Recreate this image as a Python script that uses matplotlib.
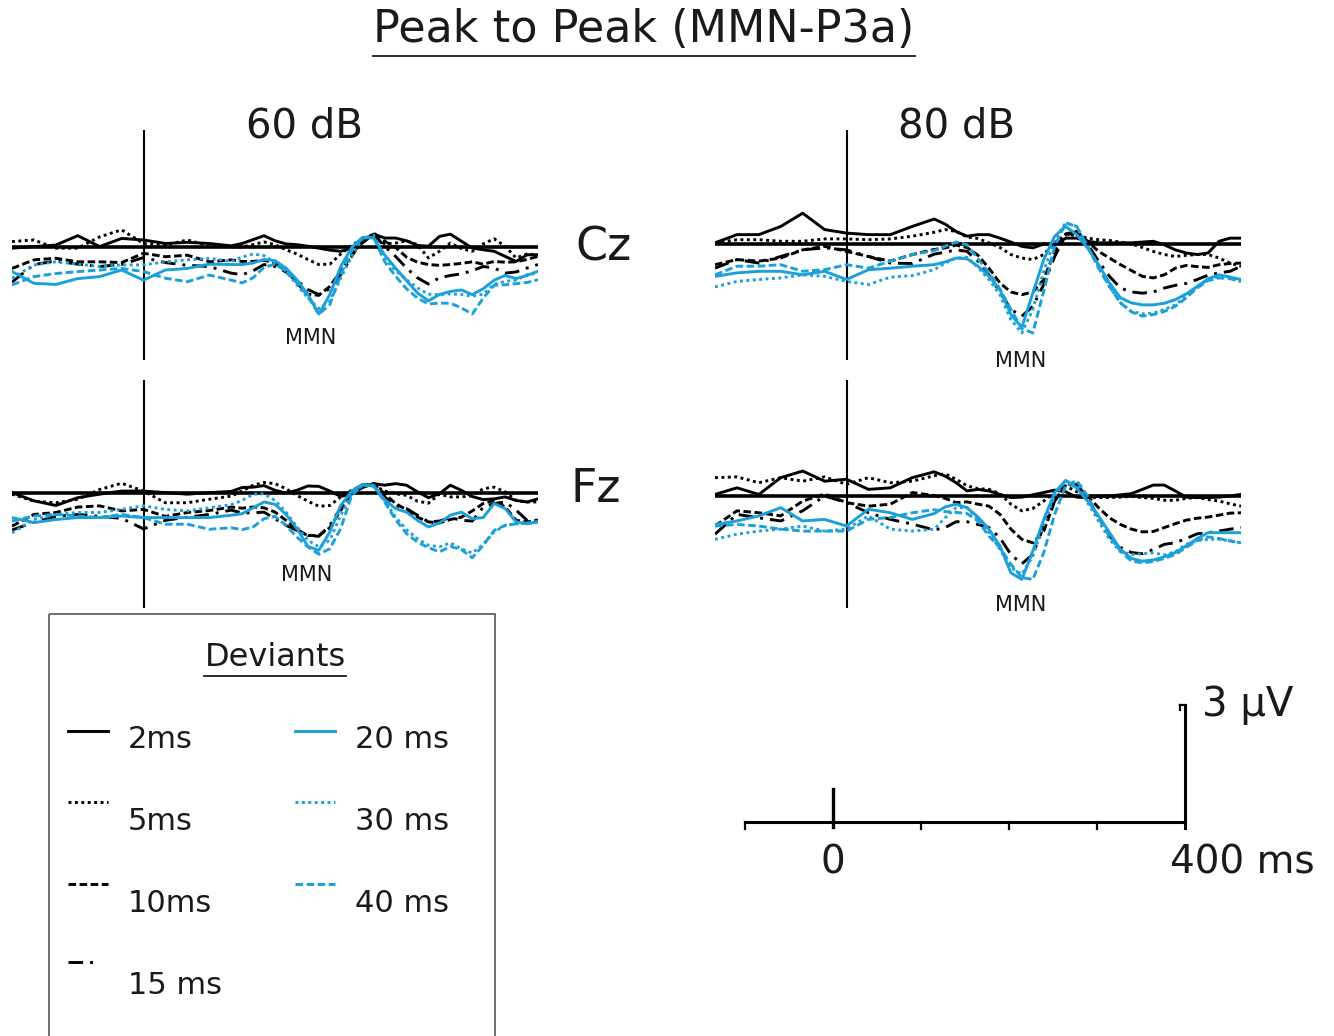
import matplotlib
matplotlib.use('Agg')
import matplotlib.pyplot as plt
from matplotlib.patches import Rectangle

t = [-150, -125, -100, -75, -50, -25, 0, 25, 50, 75, 100,
     112.5, 125, 137.5, 150, 162.5, 175, 187.5, 200, 212.5, 225, 237.5, 250, 262.5,
     275, 287.5, 300, 312.5, 325, 337.5, 350, 362.5, 375, 387.5, 400, 412.5, 425, 437.5, 450]

# amplitudes (microvolts), Cz 60 dB
cz60_2 = [-0.03, 0.01, 0.05, 0.29, 0.01, 0.22, 0.18, 0.09, 0.12, 0.09, 0.03,
          0.09, 0.19, 0.29, 0.16, 0.08, 0.06, 0.02, -0.03, -0.08, -0.11, -0.03, 0.11, 0.33,
          0.23, 0.23, 0.16, 0.04, 0.02, 0.27, 0.33, 0.15, -0.03, -0.07, -0.11, -0.24, -0.37, -0.20, -0.20]
cz60_5 = [0.14, 0.18, -0.03, -0.03, 0.26, 0.44, 0.09, 0.05, 0.18, 0.03, 0.00,
          0.00, 0.06, 0.13, 0.06, -0.07, -0.18, -0.32, -0.45, -0.44, -0.18, 0.04, 0.21, 0.28,
          0.08, 0.10, 0.16, 0.06, -0.28, -0.11, 0.10, -0.04, -0.11, 0.08, 0.21, 0.02, -0.28, -0.18, -0.20]
cz60_10 = [-0.55, -0.33, -0.29, -0.38, -0.38, -0.40, -0.16, -0.25, -0.21, -0.38, -0.33,
           -0.37, -0.37, -0.34, -0.41, -0.58, -0.92, -1.21, -1.24, -1.01, -0.62, -0.20, 0.13, 0.36,
           0.15, -0.01, -0.26, -0.39, -0.45, -0.47, -0.45, -0.42, -0.38, -0.44, -0.37, -0.39, -0.38, -0.32, -0.24]
cz60_15 = [-0.90, -0.45, -0.36, -0.44, -0.50, -0.45, -0.27, -0.40, -0.47, -0.50, -0.67,
           -0.71, -0.61, -0.45, -0.50, -0.64, -0.86, -1.09, -1.22, -1.07, -0.71, -0.24, 0.21, 0.32,
           0.02, -0.24, -0.54, -0.79, -0.95, -0.79, -0.73, -0.69, -0.61, -0.50, -0.54, -0.67, -0.64, -0.54, -0.45]
cz60_20 = [-0.63, -0.93, -0.96, -0.81, -0.76, -0.59, -0.85, -0.59, -0.55, -0.44, -0.45,
           -0.45, -0.41, -0.32, -0.35, -0.54, -0.84, -1.22, -1.72, -1.22, -0.50, -0.01, 0.25, 0.23,
           -0.20, -0.54, -0.86, -1.18, -1.38, -1.22, -1.14, -1.10, -1.22, -1.07, -0.85, -0.73, -0.81, -0.73, -0.62]
cz60_30 = [-0.80, -0.46, -0.38, -0.44, -0.50, -0.46, -0.46, -0.38, -0.33, -0.29, -0.37,
           -0.26, -0.18, -0.22, -0.41, -0.62, -0.97, -1.31, -1.58, -1.39, -0.79, -0.24, 0.23, 0.30,
           -0.28, -0.61, -0.84, -1.05, -1.21, -1.22, -1.20, -1.22, -1.26, -1.21, -0.95, -0.88, -0.85, -0.71, -0.67]
cz60_40 = [-0.97, -0.76, -0.68, -0.63, -0.59, -0.55, -0.63, -0.80, -0.89, -0.72, -0.85,
           -0.92, -0.79, -0.52, -0.44, -0.62, -0.92, -1.26, -1.72, -1.48, -0.71, -0.07, 0.23, 0.25,
           -0.37, -0.75, -1.07, -1.31, -1.46, -1.44, -1.44, -1.56, -1.72, -1.31, -0.98, -0.97, -0.94, -0.91, -0.84]

# Cz 80 dB
cz80_2 = [0.03, 0.24, 0.24, 0.45, 0.79, 0.37, 0.28, 0.24, 0.24, 0.45, 0.64,
          0.51, 0.32, 0.20, 0.24, 0.24, 0.15, 0.05, -0.06, -0.10, 0.00, -0.03, 0.15, 0.15,
          0.07, 0.03, 0.03, 0.03, 0.03, 0.05, 0.07, -0.02, -0.15, -0.23, -0.27, -0.23, 0.07, 0.15, 0.15]
cz80_5 = [0.03, 0.11, 0.11, 0.07, 0.07, 0.13, 0.13, 0.11, 0.13, 0.20, 0.30,
          0.37, 0.32, 0.18, 0.14, 0.03, -0.09, -0.27, -0.36, -0.40, -0.27, 0.03, 0.24, 0.22,
          0.15, 0.11, 0.09, 0.05, 0.00, -0.09, -0.19, -0.27, -0.32, -0.29, -0.27, -0.27, -0.36, -0.49, -0.57]
cz80_10 = [-0.53, -0.40, -0.44, -0.36, -0.15, -0.06, -0.19, -0.32, -0.44, -0.27, -0.14,
           -0.10, -0.03, -0.09, -0.29, -0.62, -1.00, -1.23, -1.30, -1.23, -0.91, -0.19, 0.26, 0.32,
           0.07, -0.19, -0.36, -0.53, -0.68, -0.83, -0.87, -0.79, -0.62, -0.55, -0.58, -0.60, -0.53, -0.50, -0.49]
cz80_15 = [-0.62, -0.40, -0.49, -0.32, -0.15, -0.10, -0.15, -0.32, -0.49, -0.50, -0.26,
           -0.21, -0.15, -0.19, -0.44, -0.80, -1.23, -1.68, -1.85, -1.60, -1.04, -0.32, 0.22, 0.32,
           0.00, -0.44, -0.83, -1.13, -1.23, -1.26, -1.23, -1.13, -1.06, -1.01, -0.91, -0.80, -0.74, -0.70, -0.57]
cz80_20 = [-0.83, -0.74, -0.70, -0.70, -0.79, -0.70, -0.91, -0.66, -0.62, -0.57, -0.53,
           -0.46, -0.36, -0.38, -0.57, -0.83, -1.17, -1.81, -2.14, -1.26, -0.40, 0.20, 0.45, 0.24,
           -0.10, -0.53, -1.00, -1.38, -1.51, -1.56, -1.56, -1.52, -1.43, -1.28, -1.09, -0.89, -0.79, -0.85, -0.91]
cz80_30 = [-1.10, -0.96, -0.91, -0.87, -0.79, -0.83, -0.96, -1.04, -0.85, -0.81, -0.66,
           -0.49, -0.36, -0.34, -0.60, -0.91, -1.30, -1.94, -2.28, -1.68, -0.70, 0.11, 0.54, 0.45,
           -0.06, -0.57, -1.09, -1.51, -1.73, -1.79, -1.77, -1.68, -1.56, -1.34, -1.09, -0.91, -0.83, -0.85, -0.96]
cz80_40 = [-0.79, -0.57, -0.57, -0.53, -0.70, -0.66, -0.53, -0.62, -0.44, -0.27, -0.17,
           -0.06, 0.05, -0.02, -0.38, -0.74, -1.15, -1.68, -2.17, -2.28, -1.21, -0.06, 0.54, 0.45,
           -0.06, -0.62, -1.09, -1.51, -1.74, -1.85, -1.81, -1.73, -1.60, -1.38, -1.13, -0.94, -0.87, -0.89, -0.96]

# Fz 60 dB
fz60_2 = [0.01, -0.20, -0.32, -0.12, -0.03, 0.05, 0.05, 0.01, -0.03, 0.01, 0.04,
          0.14, 0.15, 0.19, 0.07, 0.00, 0.07, 0.18, 0.17, 0.05, -0.09, -0.02, 0.14, 0.24,
          0.20, 0.24, 0.20, 0.03, -0.12, -0.02, 0.20, 0.07, -0.09, -0.17, -0.15, -0.10, -0.19, -0.23, -0.15]
fz60_5 = [-0.03, -0.21, -0.25, -0.16, 0.09, 0.25, 0.05, -0.25, -0.25, -0.16, -0.08,
          0.05, 0.20, 0.27, 0.24, 0.11, -0.06, -0.21, -0.34, -0.32, -0.10, 0.07, 0.20, 0.20,
          0.05, -0.02, -0.06, -0.21, -0.26, -0.03, -0.10, -0.10, -0.07, 0.11, 0.15, 0.03, -0.19, -0.23, -0.23]
fz60_10 = [-0.85, -0.55, -0.50, -0.36, -0.33, -0.46, -0.42, -0.60, -0.50, -0.45, -0.36,
           -0.39, -0.36, -0.38, -0.49, -0.70, -0.94, -1.09, -1.09, -0.89, -0.44, 0.00, 0.20, 0.24,
           -0.02, -0.27, -0.43, -0.62, -0.74, -0.77, -0.68, -0.62, -0.46, -0.27, -0.19, -0.36, -0.70, -0.74, -0.70]
fz60_15 = [-0.95, -0.75, -0.60, -0.55, -0.60, -0.65, -0.92, -0.70, -0.62, -0.55, -0.44,
           -0.51, -0.51, -0.49, -0.66, -0.83, -0.96, -1.09, -1.11, -0.83, -0.38, 0.03, 0.22, 0.20,
           -0.10, -0.32, -0.40, -0.57, -0.74, -0.72, -0.63, -0.70, -0.72, -0.36, -0.27, -0.23, -0.44, -0.70, -0.70]
fz60_20 = [-0.63, -0.76, -0.68, -0.63, -0.63, -0.59, -0.63, -0.63, -0.63, -0.63, -0.57,
           -0.53, -0.38, -0.23, -0.29, -0.55, -0.91, -1.37, -1.47, -1.00, -0.32, 0.05, 0.22, 0.17,
           -0.17, -0.40, -0.49, -0.70, -0.87, -0.77, -0.57, -0.49, -0.66, -0.63, -0.27, -0.40, -0.74, -0.79, -0.74]
fz60_30 = [-1.02, -0.68, -0.55, -0.50, -0.50, -0.42, -0.33, -0.42, -0.46, -0.38, -0.30,
           -0.19, -0.03, -0.02, -0.19, -0.49, -0.87, -1.21, -1.38, -1.21, -0.57, -0.02, 0.20, 0.20,
           -0.19, -0.62, -0.94, -1.17, -1.34, -1.38, -1.28, -1.43, -1.54, -1.32, -1.00, -0.83, -0.79, -0.77, -0.74]
fz60_40 = [-0.72, -0.59, -0.55, -0.59, -0.63, -0.55, -0.63, -0.80, -0.80, -0.93, -0.89,
           -0.94, -0.87, -0.66, -0.60, -0.83, -1.13, -1.38, -1.57, -1.43, -0.91, -0.06, 0.20, 0.20,
           -0.23, -0.68, -1.04, -1.26, -1.40, -1.51, -1.37, -1.45, -1.66, -1.34, -0.96, -0.83, -0.79, -0.77, -0.74]

# Fz 80 dB
fz80_2 = [0.04, 0.21, 0.04, 0.47, 0.64, 0.38, 0.43, 0.17, 0.21, 0.47, 0.62,
          0.51, 0.34, 0.13, 0.17, 0.13, 0.04, -0.04, -0.03, 0.03, 0.09, 0.15, 0.11, -0.03,
          -0.04, 0.00, 0.00, 0.03, 0.06, 0.17, 0.28, 0.28, 0.13, -0.03, -0.04, -0.04, -0.03, 0.00, 0.04]
fz80_5 = [0.47, 0.49, 0.34, 0.47, 0.38, 0.49, 0.30, 0.47, 0.34, 0.38, 0.52,
          0.57, 0.43, 0.26, 0.19, 0.17, 0.06, -0.21, -0.38, -0.32, -0.13, 0.09, 0.26, 0.11,
          -0.03, -0.04, -0.04, -0.03, -0.01, -0.04, -0.06, -0.11, -0.11, -0.06, -0.04, -0.09, -0.13, -0.20, -0.26]
fz80_10 = [-0.77, -0.38, -0.43, -0.51, -0.13, 0.05, -0.17, -0.26, -0.21, 0.09, 0.01,
           -0.06, -0.17, -0.15, -0.21, -0.26, -0.47, -0.85, -1.11, -1.20, -0.90, -0.13, 0.32, 0.26,
           0.00, -0.30, -0.56, -0.73, -0.85, -0.92, -0.91, -0.81, -0.71, -0.62, -0.57, -0.54, -0.49, -0.44, -0.43]
fz80_15 = [-0.98, -0.47, -0.56, -0.64, -0.38, 0.00, -0.17, -0.43, -0.60, -0.72, -0.87,
           -0.81, -0.66, -0.66, -0.73, -0.81, -1.07, -1.50, -1.74, -1.50, -0.77, -0.13, 0.28, 0.30,
           -0.04, -0.56, -1.03, -1.32, -1.45, -1.48, -1.37, -1.24, -1.20, -1.09, -0.97, -0.94, -0.90, -0.85, -0.81]
fz80_20 = [-0.73, -0.64, -0.51, -0.30, -0.64, -0.60, -0.77, -0.34, -0.43, -0.60, -0.45,
           -0.28, -0.21, -0.30, -0.54, -0.85, -1.28, -1.97, -2.14, -1.41, -0.60, 0.09, 0.40, 0.20,
           -0.13, -0.51, -0.94, -1.37, -1.60, -1.67, -1.64, -1.56, -1.45, -1.28, -1.09, -0.94, -0.94, -0.94, -0.94]
fz80_30 = [-1.11, -0.98, -0.90, -0.85, -0.77, -0.90, -0.85, -0.51, -0.85, -0.90, -0.85,
           -0.56, -0.30, -0.30, -0.60, -0.94, -1.37, -1.84, -2.01, -1.54, -0.73, 0.00, 0.38, 0.30,
           -0.17, -0.64, -1.11, -1.43, -1.50, -1.48, -1.46, -1.51, -1.43, -1.24, -1.15, -1.11, -1.11, -1.15, -1.20]
fz80_40 = [-0.77, -0.73, -0.77, -0.85, -0.90, -0.90, -0.90, -0.60, -0.55, -0.43, -0.35,
           -0.40, -0.42, -0.45, -0.64, -1.03, -1.32, -1.75, -2.09, -2.14, -1.45, -0.47, 0.26, 0.40,
           0.00, -0.56, -1.03, -1.41, -1.67, -1.71, -1.68, -1.60, -1.50, -1.32, -1.14, -1.05, -1.09, -1.15, -1.20]

deviants = ['2ms', '5ms', '10ms', '15 ms', '20 ms', '30 ms', '40 ms']

BLUE = '#1ba0da'
INK = '#1a1a1a'
DOT = (0, (1.0, 1.2))
DASH = (0, (2.6, 1.2))
DASHDOT = (0, (5, 2.4, 1, 2.4))
styles = [('-', 'black'), (DOT, 'black'), (DASH, 'black'), (DASHDOT, 'black'),
          ('-', BLUE), (DOT, BLUE), (DASH, BLUE)]

W, H = 1334, 1036
fig = plt.figure(figsize=(W / 100, H / 100), dpi=100)


def px_axes(left, top, right, bottom):
    return fig.add_axes([left / W, 1 - bottom / H, (right - left) / W, (bottom - top) / H])


bg = fig.add_axes([0, 0, 1, 1], zorder=0)
bg.set_xlim(0, W)
bg.set_ylim(H, 0)
bg.axis('off')

UV = 39.0  # pixels per microvolt
panels = [
    ((12, 130, 538, 360), 247, [cz60_2, cz60_5, cz60_10, cz60_15, cz60_20, cz60_30, cz60_40]),
    ((715, 130, 1241, 360), 244, [cz80_2, cz80_5, cz80_10, cz80_15, cz80_20, cz80_30, cz80_40]),
    ((12, 380, 538, 608), 493, [fz60_2, fz60_5, fz60_10, fz60_15, fz60_20, fz60_30, fz60_40]),
    ((715, 380, 1241, 608), 496, [fz80_2, fz80_5, fz80_10, fz80_15, fz80_20, fz80_30, fz80_40]),
]
for (l, tp, r, b), base, waves in panels:
    ax = px_axes(l, tp, r, b)
    ax.axhline(0, color='black', lw=2.6, zorder=1)
    ax.axvline(0, color='black', lw=1.5, zorder=1)
    for w, (ls, c) in zip(waves, styles):
        ax.plot(t, w, linestyle=ls, color=c, lw=2.1, zorder=2,
                solid_joinstyle='round', dash_joinstyle='round')
    ax.set_xlim(-150, 450)
    ax.set_ylim(-(b - base) / UV, (base - tp) / UV)
    ax.axis('off')

# headings
title = bg.text(644, 30, 'Peak to Peak (MMN-P3a)', fontsize=32, ha='center', va='center', color=INK)
bg.text(304, 127, '60 dB', fontsize=29, ha='center', va='center', color=INK)
bg.text(957, 127, '80 dB', fontsize=29, ha='center', va='center', color=INK)
bg.text(603, 248, 'Cz', fontsize=33, ha='center', va='center', color=INK)
bg.text(596, 490, 'Fz', fontsize=33, ha='center', va='center', color=INK)
for x, y in [(311, 338), (1021, 361), (307, 575), (1021, 605)]:
    bg.text(x, y, 'MMN', fontsize=15, ha='center', va='center', color=INK)

# legend box
bg.add_patch(Rectangle((49, 614), 446, 440, fill=False, ec='#555555', lw=1.2))
dev = bg.text(275, 657, 'Deviants', fontsize=23, ha='center', va='center', color=INK)
rows = [(731, 740), (802, 822), (884, 903), (962, 985)]
for i, (lab, (ls, c)) in enumerate(zip(deviants, styles)):
    col, row = (0, i) if i < 4 else (1, i - 4)
    x0 = 68 if col == 0 else 295
    ly, ty = rows[row]
    x1 = x0 + (25 if ls == DASHDOT else 40)
    bg.plot([x0, x1], [ly, ly], linestyle=ls, color=c, lw=2.1)
    bg.text(x0 + 60, ty, lab, fontsize=22, ha='left', va='center', color=INK)

# underline title and legend heading
fig.canvas.draw()
rend = fig.canvas.get_renderer()
inv = bg.transData.inverted()
for txt, gap in [(title, 4), (dev, 3)]:
    bb = txt.get_window_extent(rend)
    (xa, ya), (xb, yb) = inv.transform([[bb.x0, bb.y0], [bb.x1, bb.y1]])
    bg.plot([xa, xb], [ya + gap, ya + gap], color=INK, lw=1.3)

# scale bar on the same ms / microvolt scale as the panels
sb = px_axes(745, 705, 1185, 822)
sb.set_xlim(-100, 400)
sb.set_ylim(0, 3)
sb.axis('off')
sb.plot([-100, 400], [0, 0], color='black', lw=2.2, clip_on=False)
for tk in [-100, 100, 200, 300]:
    sb.plot([tk, tk], [0, -0.17], color='black', lw=1.6, clip_on=False)
sb.plot([0, 0], [-0.12, 0.85], color='black', lw=2.4, clip_on=False)
sb.plot([400, 400], [-0.15, 3], color='black', lw=2.2, clip_on=False)
sb.plot([394, 400], [3, 3], color='black', lw=1.6, clip_on=False)
sb.plot([394, 394], [3, 2.88], color='black', lw=1.6, clip_on=False)
sb.text(0, -1.03, '0', fontsize=28, ha='center', va='center', color=INK)
sb.text(465, -1.03, '400 ms', fontsize=28, ha='center', va='center', color=INK)
sb.text(419, 3.0, '3 µV', fontsize=29, ha='left', va='center', color=INK)

fig.savefig('out.png', dpi=100)
